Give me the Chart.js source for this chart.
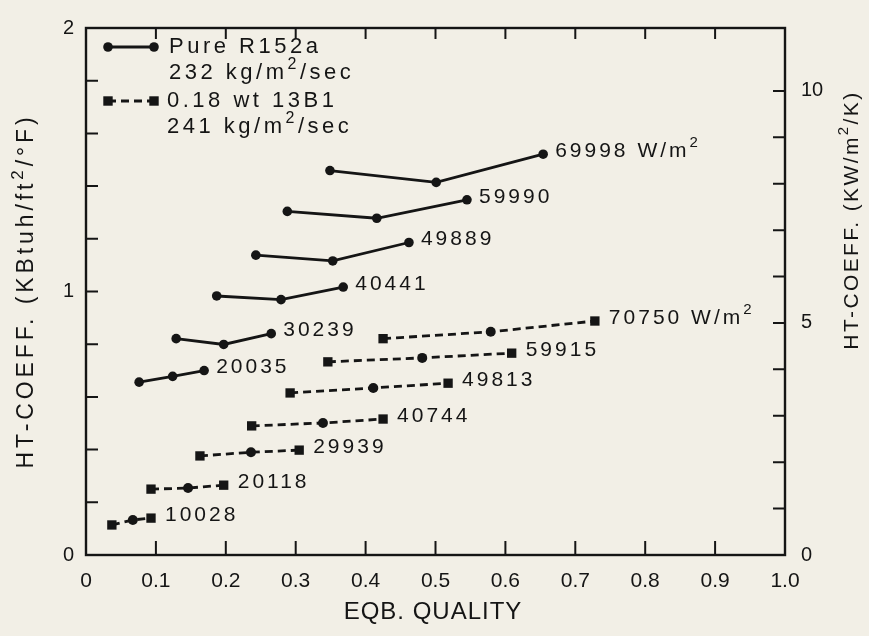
<!DOCTYPE html>
<html>
<head>
<meta charset="utf-8">
<script src="https://cdn.jsdelivr.net/npm/chart.js@4.4.1/dist/chart.umd.min.js"></script>
<style>
  html, body { margin: 0; padding: 0; background: #f2efe6; }
  #wrap { width: 869px; height: 636px; }
</style>
</head>
<body>
<div id="wrap"><canvas id="c" width="869" height="636"></canvas></div>
<script>
// ---------- DATA ----------
// Pure R152a, 232 kg/m2/sec  (x = equilibrium quality, y = HT coeff KBtuh/ft2/F)
const pure20035_q = [0.076, 0.124, 0.169];
const pure20035_h = [0.656, 0.678, 0.700];
const pure30239_q = [0.129, 0.197, 0.265];
const pure30239_h = [0.821, 0.799, 0.840];
const pure40441_q = [0.187, 0.279, 0.368];
const pure40441_h = [0.983, 0.969, 1.017];
const pure49889_q = [0.243, 0.353, 0.462];
const pure49889_h = [1.138, 1.116, 1.186];
const pure59990_q = [0.288, 0.416, 0.545];
const pure59990_h = [1.304, 1.278, 1.348];
const pure69998_q = [0.349, 0.501, 0.654];
const pure69998_h = [1.459, 1.414, 1.521];
const pureHeatFlux = ['20035', '30239', '40441', '49889', '59990', '69998 W/m^2'];

// 0.18 wt 13B1 mixture, 241 kg/m2/sec
const mix10028_q = [0.037, 0.067, 0.093];
const mix10028_h = [0.114, 0.133, 0.140];
const mix20118_q = [0.093, 0.146, 0.197];
const mix20118_h = [0.250, 0.254, 0.265];
const mix29939_q = [0.163, 0.236, 0.305];
const mix29939_h = [0.376, 0.390, 0.398];
const mix40744_q = [0.237, 0.339, 0.425];
const mix40744_h = [0.490, 0.501, 0.516];
const mix49813_q = [0.292, 0.411, 0.518];
const mix49813_h = [0.615, 0.634, 0.652];
const mix59915_q = [0.346, 0.481, 0.609];
const mix59915_h = [0.733, 0.748, 0.766];
const mix70750_q = [0.425, 0.579, 0.728];
const mix70750_h = [0.821, 0.847, 0.888];
const mixHeatFlux = ['10028', '20118', '29939', '40744', '49813', '59915', '70750 W/m^2'];

// axes
const xTickStep = 0.1;
const leftMax = 2;          // KBtuh/ft2/F
const leftStep = 0.2;
const kbtuToKw = 5.678;     // 1 KBtuh/ft2/F = 5.678 kW/m2/K
const rightStep = 1;
const leftLabels = [0, 1, 2];
const rightLabels = [0, 5, 10];

const legendPure = ['Pure R152a', '232 kg/m^2/sec'];
const legendMix = ['0.18 wt 13B1', '241 kg/m^2/sec'];
const xTitle = 'EQB. QUALITY';
const leftTitle = 'HT-COEFF. (KBtuh/ft^2/\u00B0F)';
const rightTitle = 'HT-COEFF. (KW/m^2/K)';

// ---------- STYLE ----------
const INK = '#151515';
const BG = '#f2efe6';
const SANS = '"Liberation Sans", Arial, Helvetica, sans-serif';
const NARROW = '"Liberation Sans Narrow", "Liberation Sans", Arial, sans-serif';

function pts(q, h) { return q.map((x, i) => ({ x: x, y: h[i] })); }

const pureSets = [
  [pure20035_q, pure20035_h], [pure30239_q, pure30239_h], [pure40441_q, pure40441_h],
  [pure49889_q, pure49889_h], [pure59990_q, pure59990_h], [pure69998_q, pure69998_h]
];
const mixSets = [
  [mix10028_q, mix10028_h], [mix20118_q, mix20118_h], [mix29939_q, mix29939_h],
  [mix40744_q, mix40744_h], [mix49813_q, mix49813_h], [mix59915_q, mix59915_h],
  [mix70750_q, mix70750_h]
];

const datasets = [];
pureSets.forEach((s, i) => datasets.push({
  label: 'Pure R152a ' + pureHeatFlux[i],
  endLabel: pureHeatFlux[i], endDx: 12,
  data: pts(s[0], s[1]),
  showLine: true, borderColor: INK, backgroundColor: INK, borderWidth: 2.8,
  pointStyle: 'circle', pointRadius: 4.8, pointHoverRadius: 4.8, pointBorderWidth: 0,
  yAxisID: 'y'
}));
mixSets.forEach((s, i) => datasets.push({
  label: '0.18 wt 13B1 ' + mixHeatFlux[i],
  endLabel: mixHeatFlux[i], endDx: 14,
  data: pts(s[0], s[1]),
  showLine: true, borderColor: INK, backgroundColor: INK, borderWidth: 2.8,
  borderDash: [8, 5],
  pointStyle: ['rect', 'circle', 'rect'], pointRadius: [6.6, 5, 6.6], pointHoverRadius: 6.6,
  pointBorderWidth: 0,
  yAxisID: 'y'
}));

// rich text helper: "^x" renders x as a superscript
function drawRich(ctx, str, x, y, size, family, spacing, align) {
  const parts = str.split(/\^(.)/);
  const items = parts.map((t, i) => ({ t: t, sup: i % 2 === 1 }));
  let total = 0;
  items.forEach(it => {
    ctx.font = (it.sup ? Math.round(size * 0.72) : size) + 'px ' + family;
    ctx.letterSpacing = spacing + 'px';
    it.w = ctx.measureText(it.t).width;
    total += it.w;
  });
  let cx = align === 'center' ? x - total / 2 : (align === 'right' ? x - total : x);
  ctx.textAlign = 'left';
  ctx.textBaseline = 'middle';
  items.forEach(it => {
    ctx.font = (it.sup ? Math.round(size * 0.72) : size) + 'px ' + family;
    ctx.letterSpacing = spacing + 'px';
    ctx.fillText(it.t, cx, it.sup ? y - size * 0.38 : y);
    cx += it.w;
  });
  ctx.letterSpacing = '0px';
}

const decor = {
  id: 'decor',
  beforeDraw(chart) {
    const ctx = chart.ctx;
    ctx.save();
    ctx.fillStyle = BG;
    ctx.fillRect(0, 0, chart.width, chart.height);
    ctx.restore();
  },
  afterDatasetsDraw(chart) {
    const ctx = chart.ctx;
    const a = chart.chartArea;
    const xs = chart.scales.x, ys = chart.scales.y, y2 = chart.scales.y2;
    ctx.save();
    ctx.strokeStyle = INK;
    ctx.fillStyle = INK;
    // frame
    ctx.lineWidth = 2.4;
    ctx.strokeRect(a.left, a.top, a.right - a.left, a.bottom - a.top);
    // inward tick marks
    ctx.lineWidth = 2;
    ctx.beginPath();
    xs.ticks.forEach(t => {
      if (t.value <= xs.min + 1e-9 || t.value >= xs.max - 1e-9) return;
      const p = xs.getPixelForValue(t.value);
      ctx.moveTo(p, a.bottom); ctx.lineTo(p, a.bottom - 14);
      ctx.moveTo(p, a.top); ctx.lineTo(p, a.top + 11);
    });
    ys.ticks.forEach(t => {
      if (t.value <= ys.min + 1e-9 || t.value >= ys.max - 1e-9) return;
      const p = ys.getPixelForValue(t.value);
      ctx.moveTo(a.left, p); ctx.lineTo(a.left + 12, p);
    });
    y2.ticks.forEach(t => {
      if (t.value <= y2.min + 1e-9 || t.value >= y2.max - 1e-9) return;
      const p = y2.getPixelForValue(t.value);
      ctx.moveTo(a.right, p); ctx.lineTo(a.right - 12, p);
    });
    ctx.stroke();

    // end-of-series labels
    chart.data.datasets.forEach((ds, i) => {
      const meta = chart.getDatasetMeta(i);
      const last = meta.data[meta.data.length - 1];
      drawRich(ctx, ds.endLabel, last.x + ds.endDx, last.y - 3, 21, SANS, 3, 'left');
    });

    // legend
    const lx0 = 108, lx1 = 154;
    ctx.lineWidth = 2.8;
    ctx.setLineDash([]);
    ctx.beginPath(); ctx.moveTo(lx0, 47); ctx.lineTo(lx1, 47); ctx.stroke();
    [lx0, lx1].forEach(x => { ctx.beginPath(); ctx.arc(x, 47, 4.8, 0, Math.PI * 2); ctx.fill(); });
    ctx.setLineDash([8, 5]);
    ctx.beginPath(); ctx.moveTo(lx0, 101); ctx.lineTo(lx1, 101); ctx.stroke();
    ctx.setLineDash([]);
    [lx0, lx1].forEach(x => ctx.fillRect(x - 4.7, 101 - 4.7, 9.4, 9.4));
    drawRich(ctx, legendPure[0], 169, 47, 22, SANS, 3.5, 'left');
    drawRich(ctx, legendPure[1], 169, 73, 22, SANS, 3.5, 'left');
    drawRich(ctx, legendMix[0], 167, 101, 22, SANS, 3.5, 'left');
    drawRich(ctx, legendMix[1], 167, 127, 22, SANS, 3.5, 'left');

    // axis titles
    drawRich(ctx, xTitle, 433, 612, 24, NARROW, 1, 'center');
    ctx.save();
    ctx.translate(27, 291);
    ctx.rotate(-Math.PI / 2);
    drawRich(ctx, leftTitle, 0, 0, 23, SANS, 3.9, 'center');
    ctx.restore();
    ctx.save();
    ctx.translate(852, 220);
    ctx.rotate(-Math.PI / 2);
    drawRich(ctx, rightTitle, 0, 0, 21, SANS, 2.4, 'center');
    ctx.restore();
    ctx.restore();
  }
};

new Chart(document.getElementById('c'), {
  type: 'scatter',
  data: { datasets: datasets },
  options: {
    responsive: false,
    animation: false,
    devicePixelRatio: 1,
    layout: { padding: { top: 12, left: 0, right: 0, bottom: 0 } },
    plugins: { legend: { display: false }, tooltip: { enabled: false } },
    scales: {
      x: {
        type: 'linear', position: 'bottom', min: 0, max: 1,
        afterFit: s => { s.height = 81; },
        grid: { display: false, drawTicks: false },
        border: { display: false },
        ticks: {
          stepSize: xTickStep, autoSkip: false, maxRotation: 0, padding: 14,
          color: INK, font: { family: NARROW, size: 21 },
          callback: v => Math.abs(v) < 1e-9 ? '0' : v.toFixed(1)
        }
      },
      y: {
        type: 'linear', position: 'left', min: 0, max: leftMax,
        afterFit: s => { s.width = 86; },
        grid: { display: false, drawTicks: false },
        border: { display: false },
        ticks: {
          stepSize: leftStep, autoSkip: false, padding: 12,
          color: INK, font: { family: SANS, size: 20 },
          callback: v => leftLabels.some(l => Math.abs(l - v) < 1e-6) ? String(Math.round(v)) : ''
        }
      },
      y2: {
        type: 'linear', position: 'right', min: 0, max: leftMax * kbtuToKw,
        afterFit: s => { s.width = 84; },
        grid: { display: false, drawTicks: false },
        border: { display: false },
        ticks: {
          stepSize: rightStep, autoSkip: false, padding: 16,
          color: INK, font: { family: SANS, size: 20 },
          callback: v => rightLabels.some(l => Math.abs(l - v) < 1e-6) ? String(Math.round(v)) : ''
        }
      }
    }
  },
  plugins: [decor]
});
</script>
</body>
</html>
